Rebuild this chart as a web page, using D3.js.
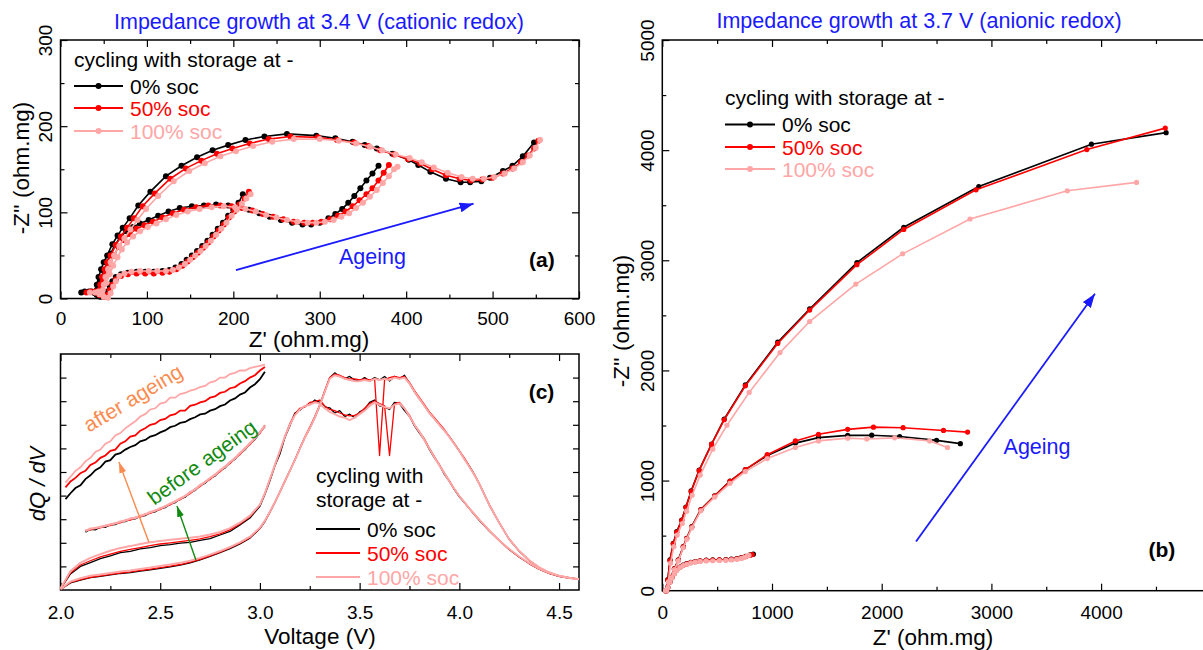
<!DOCTYPE html>
<html>
<head>
<meta charset="utf-8">
<script src="https://cdn.jsdelivr.net/npm/d3@7/dist/d3.min.js"></script>
<style>
  body { margin: 0; background: #fff; }
  text { font-family: "Liberation Sans", Arial, Helvetica, sans-serif; }
</style>
</head>
<body>
<svg id="fig" width="1203" height="650"></svg>
<script>
// series names / colours, same order in every panel
const socNames = ['0% soc', '50% soc', '100% soc'];
const socColors = ['#000000', '#ff0000', '#ffa6a6'];

// ---- panel (a): impedance at 3.4 V, [Z', -Z''] in ohm.mg ----
// three ageing stages (early / mid / late) for each storage condition
const a0Early = [[24,7],[28,8],[33,8],[38,7],[42,4],[46,2],[50,3],[54,8],[57,14],[60,20],[64,25],[70,28],[78,30],[88,31],[98,31],[108,31],[118,32],[126,33],[133,36],[140,40],[146,45],[152,50],[158,55],[164,61],[170,67],[176,74],[182,81],[188,88],[194,96],[200,103],[206,111],[211,121]];
const a50Early = [[30,7],[35,8],[40,7],[45,4],[50,2],[54,4],[57,10],[60,16],[64,22],[70,26],[78,28],[88,29],[98,29],[108,29],[118,30],[126,31],[134,34],[141,38],[147,43],[153,48],[159,53],[165,59],[171,65],[177,72],[183,79],[189,86],[195,94],[201,101],[207,109],[213,116],[218,124]];
const a100Early = [[34,7],[40,7],[45,5],[50,2],[55,1],[58,6],[61,14],[64,20],[68,26],[74,29],[82,31],[92,32],[102,32],[112,32],[122,32],[130,33],[137,36],[144,40],[150,45],[156,50],[162,55],[168,61],[174,67],[180,74],[186,81],[192,88],[198,96],[204,103],[210,110],[215,116],[220,121]];

const a0Mid = [[36,8],[42,10],[46,20],[50,32],[54,42],[58,52],[63,62],[69,71],[76,78],[84,83],[92,87],[102,91],[113,96],[125,101],[138,105],[152,107],[166,108],[180,109],[194,108],[206,106],[218,103],[230,99],[242,95],[255,91],[268,88],[280,86],[290,86],[300,88],[310,93],[318,98],[326,104],[333,111],[340,119],[347,128],[354,137],[361,145],[368,154]];
const a50Mid = [[40,8],[45,10],[49,20],[53,30],[57,40],[62,50],[67,60],[73,68],[80,75],[88,81],[97,85],[107,89],[118,94],[130,99],[143,103],[157,106],[171,108],[185,108],[198,107],[210,105],[222,102],[234,98],[246,95],[258,92],[270,89],[282,88],[292,88],[302,89],[312,92],[321,96],[330,101],[338,107],[346,114],[354,121],[361,128],[368,137],[374,146],[380,155]];
const a100Mid = [[44,8],[49,10],[53,18],[57,28],[61,38],[66,48],[71,57],[77,65],[84,72],[92,78],[101,83],[111,87],[122,92],[134,97],[147,101],[161,104],[175,106],[189,107],[202,106],[214,104],[226,101],[238,97],[250,94],[262,91],[274,89],[286,88],[296,88],[306,89],[316,91],[325,95],[334,99],[342,105],[350,111],[358,118],[366,126],[373,134],[380,142],[386,150],[390,153]];

const a0Late = [[40,6],[42,16],[44,25],[47,34],[50,42],[54,50],[60,63],[66,73],[72,82],[80,93],[90,108],[104,124],[122,142],[140,154],[158,164],[176,172],[194,178],[214,184],[236,188],[262,191],[296,189],[318,186],[338,182],[352,178],[366,174],[384,168],[403,161],[414,155],[428,147],[446,139],[463,135],[474,135],[487,136],[497,140],[512,148],[523,154],[535,165],[548,181]];
const a50Late = [[44,6],[46,16],[48,25],[51,34],[54,42],[58,50],[64,62],[70,72],[77,82],[85,93],[95,107],[109,122],[127,139],[145,151],[163,160],[181,168],[199,174],[219,180],[241,185],[266,188],[298,187],[320,184],[340,181],[356,177],[370,172],[386,167],[402,162],[416,157],[430,150],[446,143],[462,139],[475,137],[488,138],[500,140],[512,145],[523,151],[533,158],[541,166],[548,174],[553,183]];
const a100Late = [[48,6],[50,16],[52,25],[55,34],[58,42],[62,50],[68,61],[74,70],[81,80],[89,91],[99,104],[113,119],[131,136],[149,148],[167,157],[185,165],[203,171],[223,177],[245,182],[270,185],[300,185],[322,183],[342,180],[358,176],[372,172],[388,167],[404,163],[418,158],[432,152],[448,146],[464,141],[477,139],[490,139],[502,141],[514,145],[525,151],[535,158],[543,166],[550,175],[555,184]];

// ---- panel (b): impedance at 3.7 V ----
const b0Early = [[30,0],[50,30],[70,82],[90,125],[110,160],[131,190],[160,215],[190,233],[222,245],[260,257],[300,265],[344,272],[400,277],[460,280],[520,281],[580,283],[630,286],[680,292],[720,300],[760,312],[800,325],[830,332]];
const b50Early = [[30,0],[50,28],[70,80],[90,122],[110,157],[131,187],[160,212],[190,230],[222,243],[260,255],[300,263],[344,270],[400,275],[460,278],[520,279],[580,281],[630,284],[680,290],[720,298],[760,310],[800,322],[820,328]];
const b100Early = [[30,0],[50,26],[70,78],[90,120],[110,155],[131,185],[160,210],[190,228],[222,240],[260,252],[300,260],[344,266],[400,270],[460,272],[520,274],[580,276],[630,279],[680,285],[720,293],[750,303],[775,315],[790,322]];

const b0Mid = [[40,0],[80,120],[110,200],[146,279],[191,400],[222,476],[268,581],[351,737],[477,862],[617,994],[757,1099],[957,1227],[1213,1340],[1424,1390],[1690,1410],[1909,1412],[2164,1400],[2500,1365],[2717,1335]];
const b50Mid = [[40,0],[80,118],[110,198],[146,277],[191,398],[222,474],[268,578],[351,735],[477,860],[617,992],[757,1100],[957,1235],[1213,1360],[1424,1420],[1690,1465],[1925,1485],[2195,1480],[2563,1455],[2783,1440]];
const b100Mid = [[40,0],[80,114],[110,192],[146,270],[191,390],[222,466],[268,570],[351,725],[477,850],[617,975],[757,1082],[957,1200],[1213,1300],[1424,1360],[1690,1385],[1864,1378],[2118,1388],[2437,1360],[2600,1300]];

const b0Late = [[30,0],[50,100],[70,279],[100,430],[131,536],[177,642],[215,760],[263,906],[336,1095],[449,1332],[564,1558],[757,1868],[1052,2256],[1343,2558],[1774,2979],[2201,3300],[2885,3669],[3912,4054],[4593,4159]];
const b50Late = [[30,0],[50,95],[70,272],[100,425],[131,530],[177,636],[215,755],[263,900],[336,1090],[449,1328],[564,1552],[757,1860],[1052,2245],[1343,2548],[1774,2960],[2201,3280],[2860,3640],[3870,4005],[4585,4200]];
const b100Late = [[30,0],[55,80],[75,250],[105,400],[136,505],[182,610],[222,722],[272,866],[346,1050],[460,1285],[589,1502],[792,1800],[1073,2162],[1343,2444],[1764,2784],[2191,3058],[2805,3375],[3692,3631],[4323,3707]];

// ---- panel (c): dQ/dV vs voltage (arbitrary units) ----
const vGrid = [2.00,2.05,2.10,2.15,2.20,2.25,2.30,2.35,2.40,2.45,2.50,2.55,2.60,2.65,2.70,2.75,2.80,2.85,2.90,2.95,
  3.000,3.025,3.050,3.075,3.100,3.125,3.150,3.175,3.200,3.225,3.250,3.275,3.300,3.325,3.350,3.375,3.400,3.425,3.450,3.475,
  3.500,3.525,3.550,3.575,3.600,3.625,3.650,3.675,3.700,3.725,3.750,3.775,3.800,3.825,3.850,3.875,3.900,3.925,3.950,3.975,
  4.000,4.025,4.050,4.075,4.100,4.15,4.20,4.25,4.30,4.35,4.40,4.45,4.50,4.55,4.60];
// lower-voltage (discharge) branch
const c0Dis = [0.05,0.68,1.0,1.16,1.33,1.45,1.58,1.64,1.74,1.8,1.88,1.92,1.99,2.02,2.1,2.18,2.33,2.48,2.76,3.05,
  3.55,4.05,4.62,5.25,5.75,6.45,6.95,7.5,7.62,7.8,7.85,8.05,7.95,7.75,7.72,7.5,7.6,7.35,7.45,7.3,
  7.55,7.65,7.95,8.05,7.8,7.75,7.65,7.95,7.9,7.6,7.35,6.95,6.65,6.35,5.95,5.6,5.3,4.9,4.6,4.25,
  3.95,3.7,3.45,3.2,2.95,2.5,2.1,1.72,1.4,1.12,0.88,0.7,0.58,0.5,0.46];
const c50Dis = [0.05,0.72,1.06,1.24,1.4,1.52,1.64,1.72,1.8,1.88,1.95,2.0,2.05,2.1,2.17,2.26,2.38,2.55,2.8,3.1,
  3.6,4.1,4.68,5.3,5.85,6.5,7.05,7.45,7.7,7.75,7.95,7.98,8.05,7.8,7.65,7.6,7.5,7.42,7.38,7.4,
  7.5,7.7,7.9,8.0,7.9,7.8,5.7,7.9,7.95,7.7,7.4,7.0,6.7,6.4,6.0,5.65,5.3,4.95,4.62,4.28,
  3.98,3.72,3.45,3.22,2.97,2.52,2.1,1.72,1.4,1.12,0.88,0.7,0.58,0.5,0.46];
const c100Dis = [0.06,0.8,1.15,1.36,1.52,1.66,1.78,1.86,1.95,2.02,2.08,2.13,2.17,2.21,2.27,2.35,2.46,2.62,2.85,3.15,
  3.62,4.1,4.7,5.3,5.9,6.5,7.0,7.4,7.65,7.8,7.85,7.95,7.9,7.7,7.55,7.45,7.35,7.3,7.2,7.3,
  7.45,7.6,7.8,7.95,7.85,7.75,7.7,7.85,7.9,7.7,7.35,7.0,6.7,6.35,5.98,5.62,5.28,4.95,4.6,4.28,
  3.98,3.72,3.46,3.22,2.98,2.52,2.1,1.74,1.42,1.14,0.9,0.72,0.6,0.51,0.46];
// higher-voltage (charge) branch
const c0Cha = [0.02,0.3,0.42,0.52,0.58,0.64,0.7,0.74,0.8,0.85,0.92,0.98,1.05,1.15,1.28,1.42,1.58,1.75,1.95,2.2,
  2.6,2.9,3.3,3.7,4.15,4.6,5.05,5.5,6.0,6.45,6.85,7.3,7.8,8.4,9.0,9.2,9.05,8.95,9.05,8.9,
  8.85,9.0,8.85,9.0,8.9,9.05,8.85,9.05,8.95,9.1,8.75,8.4,8.1,7.8,7.5,7.25,7.0,6.75,6.5,6.2,
  5.9,5.55,5.25,4.9,4.5,3.6,2.85,2.15,1.65,1.25,0.95,0.74,0.6,0.52,0.46];
const c50Cha = [0.02,0.32,0.44,0.54,0.6,0.66,0.72,0.77,0.83,0.88,0.95,1.01,1.08,1.18,1.3,1.45,1.6,1.78,1.98,2.22,
  2.62,2.92,3.3,3.72,4.15,4.62,5.05,5.52,6.0,6.48,6.9,7.35,7.85,8.45,9.0,9.15,9.1,9.0,8.95,8.95,
  8.9,8.95,8.9,8.95,5.7,8.9,9.0,9.05,9.0,9.05,8.8,8.45,8.15,7.85,7.55,7.3,7.05,6.8,6.5,6.2,
  5.9,5.6,5.25,4.9,4.5,3.62,2.85,2.15,1.65,1.25,0.95,0.74,0.6,0.52,0.46];
const c100Cha = [0.03,0.36,0.5,0.6,0.66,0.72,0.78,0.83,0.89,0.95,1.02,1.08,1.15,1.24,1.36,1.5,1.65,1.82,2.02,2.26,
  2.64,2.94,3.32,3.72,4.15,4.6,5.05,5.5,5.98,6.45,6.85,7.3,7.8,8.4,8.95,9.1,9.05,8.95,8.9,8.85,
  8.85,8.9,8.85,8.95,8.9,8.95,8.9,9.0,8.95,9.0,8.75,8.4,8.1,7.8,7.5,7.25,7.0,6.75,6.48,6.18,
  5.88,5.55,5.22,4.88,4.5,3.6,2.85,2.15,1.66,1.26,0.96,0.75,0.6,0.52,0.46];

// low-voltage region, offset copies before and after ageing
const vAfter = [2.025,2.05,2.075,2.1,2.125,2.15,2.175,2.2,2.225,2.25,2.275,2.3,2.325,2.35,2.375,2.4,2.425,2.45,2.475,2.5,
  2.525,2.55,2.575,2.6,2.625,2.65,2.675,2.7,2.725,2.75,2.775,2.8,2.825,2.85,2.875,2.9,2.925,2.95,2.975,3.0,3.025];
const vBefore = vAfter.slice(4);
const c0After = [3.85,4.1,4.32,4.44,4.7,4.86,5.08,5.2,5.44,5.5,5.74,5.8,5.95,6.06,6.14,6.3,6.36,6.5,6.56,6.68,
  6.76,6.9,6.96,7.08,7.12,7.24,7.32,7.44,7.47,7.6,7.66,7.79,7.86,8.03,8.12,8.28,8.37,8.58,8.72,8.93,9.25];
const c50After = [4.35,4.6,4.75,4.95,5.05,5.3,5.4,5.6,5.7,5.9,5.95,6.2,6.3,6.5,6.55,6.75,6.85,7.0,7.05,7.2,
  7.25,7.4,7.45,7.6,7.6,7.8,7.85,7.95,8.0,8.15,8.2,8.35,8.4,8.55,8.6,8.75,8.85,9.0,9.1,9.3,9.45];
const c100After = [4.55,4.8,5.05,5.2,5.45,5.6,5.85,5.95,6.2,6.3,6.55,6.65,6.85,7.0,7.15,7.35,7.45,7.65,7.7,7.9,
  7.95,8.15,8.15,8.3,8.35,8.45,8.5,8.6,8.65,8.8,8.85,9.0,9.0,9.15,9.2,9.3,9.3,9.4,9.45,9.5,9.55];
const c0Before = [2.45,2.58,2.56,2.68,2.66,2.77,2.78,2.89,2.9,3.01,3.02,3.13,3.16,3.29,3.32,3.45,3.5,3.65,3.71,3.87,
  3.94,4.13,4.22,4.43,4.53,4.73,4.84,5.06,5.18,5.41,5.54,5.79,5.95,6.21,6.38,6.68,6.93];
const c50Before = [2.52,2.55,2.63,2.64,2.73,2.73,2.83,2.85,2.95,2.97,3.07,3.09,3.21,3.25,3.37,3.41,3.55,3.61,3.76,3.83,
  3.99,4.09,4.27,4.39,4.58,4.69,4.89,5.02,5.23,5.37,5.59,5.75,6.0,6.17,6.43,6.64,6.98];
const c100Before = [2.5,2.6,2.62,2.68,2.72,2.78,2.82,2.9,2.94,3.02,3.06,3.14,3.2,3.3,3.36,3.46,3.54,3.66,3.75,3.88,
  3.98,4.14,4.26,4.44,4.57,4.74,4.88,5.07,5.22,5.42,5.58,5.8,5.99,6.22,6.42,6.69,6.97];

// tick values
const aXTicks = [0,100,200,300,400,500,600], aXMinor = [50,150,250,350,450,550];
const aYTicks = [0,100,200,300], aYMinor = [50,150,250];
const bXTicks = [0,1000,2000,3000,4000], bXMinor = [500,1500,2500,3500,4500];
const bYTicks = [0,1000,2000,3000,4000,5000], bYMinor = [500,1500,2500,3500,4500];
const cXTicks = [2.0,2.5,3.0,3.5,4.0,4.5], cXMinor = [2.25,2.75,3.25,3.75,4.25];
const cYTicks = [1,2,3,4,5,6,7,8,9];

const blue = '#1a1aff', orange = '#fb8c50', green = '#128a12';

const svg = d3.select('#fig');
const defs = svg.append('defs');

// scales
const aX = d3.scaleLinear().domain([0, 600]).range([60.5, 579]);
const aY = d3.scaleLinear().domain([0, 300]).range([298.5, 40]);
const bX = d3.scaleLinear().domain([0, 5000]).range([662.3, 1210.8]);
const bY = d3.scaleLinear().domain([0, 5000]).range([590.7, 40]);
const cX = d3.scaleLinear().domain([2.0, 4.6]).range([60.5, 579]);
const cY = d3.scaleLinear().domain([0, 10]).range([590, 354]);

function arrowHead(id, color, len, half) {
  defs.append('marker')
    .attr('id', id)
    .attr('viewBox', `0 ${-half} ${len} ${2 * half}`)
    .attr('refX', len).attr('refY', 0)
    .attr('markerUnits', 'userSpaceOnUse')
    .attr('markerWidth', len).attr('markerHeight', 2 * half)
    .attr('orient', 'auto')
    .append('path')
    .attr('d', `M0,${-half}L${len},0L0,${half}Z`)
    .attr('fill', color);
}
arrowHead('head-blue', blue, 14, 5);
arrowHead('head-orange', orange, 11, 3.5);
arrowHead('head-green', green, 11, 3.5);

function tidy(s, fs) {
  s.select('.domain').remove();
  s.attr('font-size', fs).attr('font-family', null);
  s.selectAll('line').attr('stroke', '#000').attr('stroke-width', 1.2);
  s.selectAll('text').attr('fill', '#000');
}

// frame with inward ticks on all four sides, labels bottom / left (rotated)
function drawAxes(x, y, o) {
  const g = svg.append('g');
  const [x0, x1] = x.range(), [y0, y1] = y.range();
  const none = () => '';

  g.append('g').attr('transform', `translate(0,${y0})`)
    .call(d3.axisBottom(x).tickValues(o.xMajor).tickSize(-7).tickPadding(o.xPad).tickFormat(o.xFmt))
    .call(s => tidy(s, 19));
  g.append('g').attr('transform', `translate(0,${y0})`)
    .call(d3.axisBottom(x).tickValues(o.xMinor).tickSize(-4).tickFormat(none))
    .call(s => tidy(s, 19));
  g.append('g').attr('transform', `translate(0,${y1})`)
    .call(d3.axisTop(x).tickValues(o.xMajor).tickSize(-7).tickFormat(none))
    .call(s => tidy(s, 19));
  g.append('g').attr('transform', `translate(0,${y1})`)
    .call(d3.axisTop(x).tickValues(o.xMinor).tickSize(-4).tickFormat(none))
    .call(s => tidy(s, 19));

  const left = g.append('g').attr('transform', `translate(${x0},0)`)
    .call(d3.axisLeft(y).tickValues(o.yMajor).tickSize(-o.yLen).tickFormat(o.yFmt || none))
    .call(s => tidy(s, 19));
  left.selectAll('text')
    .attr('x', 0).attr('dy', 0)
    .attr('text-anchor', 'middle')
    .attr('transform', `translate(${-o.yPad},0) rotate(-90)`);
  if (o.yMinor) {
    g.append('g').attr('transform', `translate(${x0},0)`)
      .call(d3.axisLeft(y).tickValues(o.yMinor).tickSize(-4).tickFormat(none))
      .call(s => tidy(s, 19));
  }
  g.append('g').attr('transform', `translate(${x1},0)`)
    .call(d3.axisRight(y).tickValues(o.yMajor).tickSize(-o.yLen).tickFormat(none))
    .call(s => tidy(s, 19));
  if (o.yMinor) {
    g.append('g').attr('transform', `translate(${x1},0)`)
      .call(d3.axisRight(y).tickValues(o.yMinor).tickSize(-4).tickFormat(none))
      .call(s => tidy(s, 19));
  }

  g.append('rect')
    .attr('x', x0).attr('y', y1)
    .attr('width', x1 - x0).attr('height', y0 - y1)
    .attr('fill', 'none').attr('stroke', '#000').attr('stroke-width', 1.5);
}

function label(x, y, txt, opt = {}) {
  const t = svg.append('text')
    .attr('x', x).attr('y', y)
    .attr('font-size', opt.fs || 22.5)
    .attr('fill', opt.color || '#000')
    .attr('text-anchor', opt.anchor || 'middle')
    .text(txt);
  if (opt.rotate) t.attr('transform', `rotate(${opt.rotate},${x},${y})`);
  if (opt.bold) t.attr('font-weight', 'bold');
  if (opt.italic) t.attr('font-style', 'italic');
  return t;
}

// draws one Nyquist series: line plus dots
function nyquist(pts, x, y, color, r) {
  const line = d3.line().x(d => x(d[0])).y(d => y(d[1]));
  const g = svg.append('g');
  g.append('path').attr('d', line(pts))
    .attr('fill', 'none').attr('stroke', color).attr('stroke-width', 1.6);
  g.selectAll('circle').data(pts).join('circle')
    .attr('cx', d => x(d[0])).attr('cy', d => y(d[1]))
    .attr('r', r).attr('fill', color);
}

function legend(x0, headLines, headY, rowY, lineLen, dots) {
  const g = svg.append('g').attr('font-size', 21);
  headLines.forEach((h, i) => g.append('text').attr('x', x0).attr('y', headY[i]).text(h));
  socNames.forEach((name, i) => {
    const yy = rowY[i];
    g.append('line').attr('x1', x0).attr('x2', x0 + lineLen).attr('y1', yy).attr('y2', yy)
      .attr('stroke', socColors[i]).attr('stroke-width', 1.8);
    if (dots) g.append('circle').attr('cx', x0 + lineLen / 2).attr('cy', yy).attr('r', 3).attr('fill', socColors[i]);
    g.append('text').attr('x', x0 + lineLen + 7).attr('y', yy + 7.5)
      .attr('fill', socColors[i]).text(name);
  });
}

// ================= panel (a) =================
drawAxes(aX, aY, {
  xMajor: aXTicks, xMinor: aXMinor, xPad: 13, xFmt: d3.format('d'),
  yMajor: aYTicks, yMinor: aYMinor, yLen: 7, yPad: 8.7, yFmt: d3.format('d')
});
const aSets = [[a0Early, a0Mid, a0Late], [a50Early, a50Mid, a50Late], [a100Early, a100Mid, a100Late]];
aSets.forEach((set, i) => set.forEach(pts => nyquist(pts, aX, aY, socColors[i], 3)));

label(319, 29, 'Impedance growth at 3.4 V (cationic redox)', { color: blue, fs: 21.5 });
label(309, 347, "Z' (ohm.mg)");
label(29, 168, "-Z'' (ohm.mg)", { rotate: -90 });
legend(74, ['cycling with storage at -'], [67], [86, 108, 131], 49, true);

svg.append('line')
  .attr('x1', aX(203)).attr('y1', aY(33)).attr('x2', aX(478)).attr('y2', aY(110))
  .attr('stroke', blue).attr('stroke-width', 1.8).attr('marker-end', 'url(#head-blue)');
label(aX(361), aY(48) + 7, 'Ageing', { color: blue, fs: 21.5 });
label(aX(557), aY(45) + 7, '(a)', { bold: true, fs: 21 });

// ================= panel (c) =================
drawAxes(cX, cY, {
  xMajor: cXTicks, xMinor: cXMinor, xPad: 16, xFmt: d3.format('.1f'),
  yMajor: cYTicks, yLen: 6, yPad: 8
});
const zip = (v, vals) => vals.map((val, i) => [v[i], val]);
const cLine = d3.line().x(d => cX(d[0])).y(d => cY(d[1]));
const cMain = [[c0Dis, c0Cha], [c50Dis, c50Cha], [c100Dis, c100Cha]];
const cWidths = [1.3, 1.3, 2.0];
cMain.forEach((pair, i) => pair.forEach(vals => {
  svg.append('path').attr('d', cLine(zip(vGrid, vals)))
    .attr('fill', 'none').attr('stroke', socColors[i]).attr('stroke-width', cWidths[i])
    .attr('stroke-linejoin', 'round');
}));
[c0Before, c50Before, c100Before].forEach((vals, i) => {
  svg.append('path').attr('d', cLine(zip(vBefore, vals)))
    .attr('fill', 'none').attr('stroke', socColors[i]).attr('stroke-width', cWidths[i] + 0.3);
});
[c0After, c50After, c100After].forEach((vals, i) => {
  svg.append('path').attr('d', cLine(zip(vAfter, vals)))
    .attr('fill', 'none').attr('stroke', socColors[i]).attr('stroke-width', 1.8);
});

svg.append('line')
  .attr('x1', cX(2.443)).attr('y1', cY(2.03)).attr('x2', cX(2.293)).attr('y2', cY(5.42))
  .attr('stroke', orange).attr('stroke-width', 1.4).attr('marker-end', 'url(#head-orange)');
svg.append('line')
  .attr('x1', cX(2.679)).attr('y1', cY(1.27)).attr('x2', cX(2.584)).attr('y2', cY(3.56))
  .attr('stroke', green).attr('stroke-width', 1.4).attr('marker-end', 'url(#head-green)');
label(cX(2.363), cY(8.14), 'after ageing', { color: orange, rotate: -31, fs: 21 }).attr('dy', '0.35em');
label(cX(2.709), cY(5.42), 'before ageing', { color: green, rotate: -36, fs: 21 }).attr('dy', '0.35em');
label(cX(4.412), cY(8.39) + 7, '(c)', { bold: true, fs: 21 });

label(320, 644, 'Voltage (V)');
label(45, 484, 'dQ / dV', { rotate: -90, italic: true, fs: 22 });
legend(316, ['cycling with', 'storage at -'], [483, 507], [529, 553, 577], 44, false);

// ================= panel (b) =================
drawAxes(bX, bY, {
  xMajor: bXTicks, xMinor: bXMinor, xPad: 14.5, xFmt: d3.format('d'),
  yMajor: bYTicks, yMinor: bYMinor, yLen: 7, yPad: 8.8, yFmt: d3.format('d')
});
const bSets = [[b0Early, b0Mid, b0Late], [b50Early, b50Mid, b50Late], [b100Early, b100Mid, b100Late]];
bSets.forEach((set, i) => set.forEach(pts => nyquist(pts, bX, bY, socColors[i], 2.6)));

label(919, 28, 'Impedance growth at 3.7 V (anionic redox)', { color: blue, fs: 21.5 });
label(933, 645, "Z' (ohm.mg)");
label(629, 321, "-Z'' (ohm.mg)", { rotate: -90 });
legend(725, ['cycling with storage at -'], [105], [124.5, 147, 169], 50, true);

svg.append('line')
  .attr('x1', bX(2313)).attr('y1', bY(447)).attr('x2', bX(3944)).attr('y2', bY(2697))
  .attr('stroke', blue).attr('stroke-width', 1.8).attr('marker-end', 'url(#head-blue)');
label(bX(3416), bY(1305) + 7, 'Ageing', { color: blue, fs: 21.5 });
label(bX(4554), bY(370) + 7, '(b)', { bold: true, fs: 21 });
</script>
</body>
</html>
